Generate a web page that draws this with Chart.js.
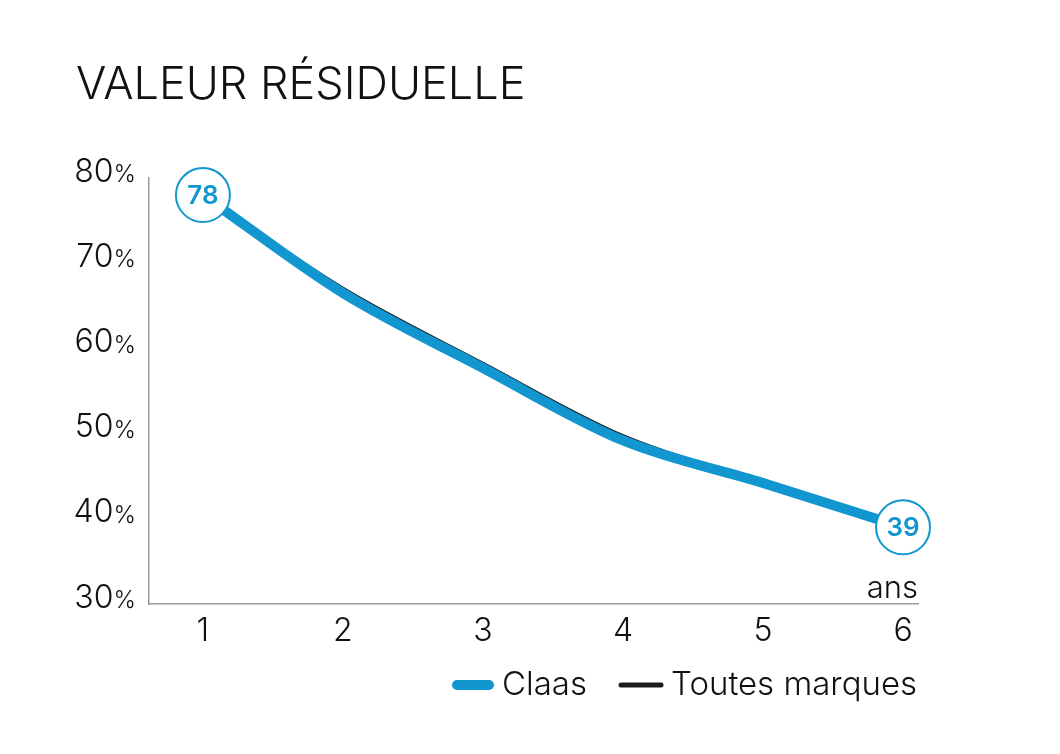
<!DOCTYPE html>
<html>
<head>
<meta charset="utf-8">
<script src="https://cdn.jsdelivr.net/npm/chart.js@4/dist/chart.umd.min.js"></script>
<style>
  body { margin: 0; background: #fff; }
  #wrap { width: 1060px; height: 754px; }
</style>
</head>
<body>
<div id="wrap"><canvas id="residualChart"></canvas></div>
<script>
// values
const years = [1, 2, 3, 4, 5, 6];
const claasValues = [78, 66.5, 57.7, 49.2, 44.2, 39];
const allBrandsValues = [78, 67.0, 58.2, 49.7, 44.2, 39];
const yTicks = [30, 40, 50, 60, 70, 80];

const BLUE = '#1296cf';
const DARK = '#1c1c1c';
const FONT = 'Inter';

// title, y labels with a small %, end-point numbers, "ans" and legend
const decorPlugin = {
  id: 'decor',
  afterDraw(chart) {
    const { ctx, scales } = chart;
    const x = scales.x, y = scales.y;
    ctx.save();
    ctx.fillStyle = '#111';
    ctx.textBaseline = 'alphabetic';
    ctx.textAlign = 'left';
    ctx.font = `300 45px ${FONT}`;
    ctx.fillText('VALEUR RÉSIDUELLE', 76, 99);

    // y tick labels: number then a smaller %
    yTicks.forEach(v => {
      const py = y.getPixelForValue(v) - 6;
      ctx.font = `300 32px ${FONT}`;
      const num = String(v);
      const numW = ctx.measureText(num).width;
      ctx.font = `300 24px ${FONT}`;
      const pctW = ctx.measureText('%').width;
      const right = 136;
      ctx.textBaseline = 'middle';
      ctx.font = `300 32px ${FONT}`;
      ctx.fillText(num, right - pctW - numW, py);
      ctx.font = `300 24px ${FONT}`;
      ctx.fillText('%', right - pctW, py + 3);
    });

    // "ans" at the end of the x axis
    ctx.textAlign = 'right';
    ctx.textBaseline = 'alphabetic';
    ctx.font = `300 31px ${FONT}`;
    ctx.fillText('ans', x.right, y.bottom - 6);

    // numbers inside the circled end points
    const meta = chart.getDatasetMeta(0);
    [0, claasValues.length - 1].forEach(i => {
      const pt = meta.data[i];
      ctx.fillStyle = BLUE;
      ctx.textAlign = 'center';
      ctx.textBaseline = 'middle';
      ctx.font = `600 26px ${FONT}`;
      ctx.fillText(Math.round(claasValues[i]), pt.x, pt.y + 1);
    });

    // legend
    const ly = 685;
    ctx.lineCap = 'round';
    ctx.strokeStyle = BLUE;
    ctx.lineWidth = 10;
    ctx.beginPath(); ctx.moveTo(457, ly); ctx.lineTo(489, ly); ctx.stroke();
    ctx.strokeStyle = DARK;
    ctx.lineWidth = 5;
    ctx.beginPath(); ctx.moveTo(621, ly); ctx.lineTo(661, ly); ctx.stroke();
    ctx.fillStyle = '#111';
    ctx.textAlign = 'left';
    ctx.textBaseline = 'middle';
    ctx.font = `300 33px ${FONT}`;
    ctx.fillText(chart.data.datasets[0].label, 502, ly);
    ctx.fillText(chart.data.datasets[1].label, 671, ly);
    ctx.restore();
  }
};

const ctx = document.getElementById('residualChart').getContext('2d');
const residualChart = new Chart(ctx, {
  type: 'line',
  data: {
    datasets: [{
      label: 'Claas',
      data: years.map((yr, i) => ({ x: yr, y: claasValues[i] })),
      borderColor: BLUE,
      borderWidth: 10,
      tension: 0.4,
      cubicInterpolationMode: 'monotone',
      clip: false,
      pointRadius: [27, 0, 0, 0, 0, 27],
      pointBackgroundColor: '#fff',
      pointBorderColor: BLUE,
      pointBorderWidth: 2,
      order: 0
    }, {
      label: 'Toutes marques',
      data: years.map((yr, i) => ({ x: yr, y: allBrandsValues[i] })),
      borderColor: DARK,
      borderWidth: 4,
      tension: 0.4,
      cubicInterpolationMode: 'monotone',
      clip: false,
      pointRadius: 0,
      order: 1
    }]
  },
  options: {
    responsive: true,
    maintainAspectRatio: false,
    animation: false,
    layout: { padding: { top: 178, right: 142, left: 0, bottom: 0 } },
    plugins: {
      legend: { display: false },
      tooltip: { enabled: false }
    },
    scales: {
      x: {
        type: 'linear',
        min: 0.615,
        max: 6.107,
        afterBuildTicks: scale => { scale.ticks = years.map(v => ({ value: v })); },
        grid: { display: false, drawTicks: false },
        border: { color: '#9a9a9a', width: 1.5 },
        ticks: {
          color: '#111',
          padding: 8,
          font: { family: FONT, size: 32, weight: 300 }
        },
        afterFit: scale => { scale.height = 150; }
      },
      y: {
        min: 30,
        max: 80,
        afterBuildTicks: scale => { scale.ticks = yTicks.map(v => ({ value: v })); },
        grid: { display: false, drawTicks: false },
        border: { color: '#9a9a9a', width: 1.5 },
        ticks: { display: false },
        afterFit: scale => { scale.width = 149; }
      }
    }
  },
  plugins: [decorPlugin]
});
</script>
</body>
</html>
